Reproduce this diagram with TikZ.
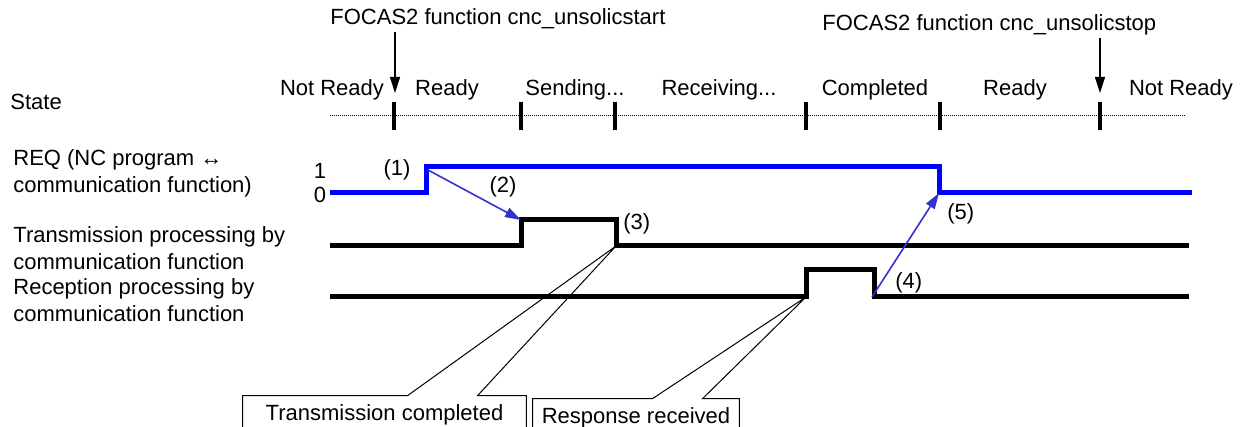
\documentclass[tikz,border=0pt]{standalone}
\usepackage{fontspec}
\setmainfont{Liberation Sans}
\usetikzlibrary{arrows.meta,positioning,calc}
\definecolor{evtblue}{RGB}{51,51,204}

\begin{document}
\begin{tikzpicture}[x=0.5pt, y=-0.5pt,
		every node/.style={inner sep=0pt, font=\fontsize{11}{13.5}\selectfont},
		lbl/.style={anchor=base west, align=left},
		st/.style={anchor=base},
		sig/.style={line width=2.5pt, line join=miter},
		tick/.style={line width=2pt},
		cmd/.style={-{Triangle[width=5pt,length=8pt]}, line width=0.6pt},
		evt/.style={-{Triangle[width=5pt,length=8pt]}, line width=0.8pt, evtblue},
		box/.style={minimum height=19pt},
		wedge/.style={line width=0.5pt}
		]
		\useasboundingbox (0,0) rectangle (1249,427);
		
		% ── Row labels ──
		\node[lbl] (state) at (10,110) {State};
		\node[lbl] (req) at (13,193) {REQ (NC program ↔\\communication function)};
		\node[lbl] (tx) at (13,270) {Transmission processing by\\communication function};
		\node[lbl] (rx) at (13,322) {Reception processing by\\communication function};
		
		% ── FOCAS2 calls ──
		\node[anchor=base west] (fstart) at (330,25) {FOCAS2 function cnc\_unsolicstart};
		\node[anchor=base west] (fstop) at (822,31) {FOCAS2 function cnc\_unsolicstop};
		\coordinate (pstart) at (395,93);
		\coordinate (pstop) at (1100,93);
		\draw[cmd] ($(pstart |- fstart.south)+(0,2)$) -- (pstart);
		\draw[cmd] ($(pstop |- fstop.south)+(0,2)$) -- (pstop);
		
		% ── State row ──
		\node[st] (s1) at (332,96) {Not Ready};
		\node[st] (s2) at (447,96) {Ready};
		\node[st] (s3) at (575,96) {Sending...};
		\node[st] (s4) at (719,96) {Receiving...};
		\node[st] (s5) at (875,96) {Completed};
		\node[st] (s6) at (1015,96) {Ready};
		\node[st] (s7) at (1181,96) {Not Ready};
		\draw[line width=0.5pt, dash pattern=on 0.5pt off 0.5pt] (330,116) -- (1185,116);
		\foreach \x in {394,521,615,806,940,1100}
		\draw[tick] (\x,102) -- (\x,130);
		
		% ── Signals ──
		\coordinate (requp) at (426,167);
		\coordinate (reqdn) at (939,193);
		\coordinate (txup) at (521,220);
		\coordinate (txdn) at (616,246);
		\coordinate (rxup) at (806,297);
		\coordinate (rxdn) at (872,297);
		\draw[sig, blue] (330,193) -- (426,193) -- (requp) -- (939,167) -- (reqdn) -- (1192,193);
		\draw[sig] (330,246) -- (521,246) -- (txup) -- (616,220) -- (txdn) -- (1189,246);
		\draw[sig] (330,297) -- (rxup) -- (806,270) -- (874,270) -- (874,297) -- (1189,297);
		\node[st] (one) at (320,179) {1};
		\node[st] (zero) at (320,203) {0};
		
		% ── Events ──
		\node[st] (e1) at (397,176) {(1)};
		\node[st] (e2) at (503,193) {(2)};
		\node[lbl] (e3) at (623,230) {(3)};
		\node[lbl] (e4) at (895,289) {(4)};
		\node[lbl] (e5) at (947,220) {(5)};
		\draw[evt] ($(requp)+(2,3)$) -- (txup);
		\draw[evt] (rxdn) -- (reqdn);
		
		% ── Callouts ──
		\node[box, minimum width=141.5pt] (tdone) at (384.5,415) {Transmission completed};
		\node[box, minimum width=103pt] (rdone) at (636,418) {Response received};
		\draw[wedge] (tdone.south west) -- (tdone.north west) -- ($(tdone.north west)+(165,0)$)
		-- (txdn) -- ($(tdone.north west)+(235,0)$) -- (tdone.north east) -- (tdone.south east);
		\draw[wedge] (rdone.south west) -- (rdone.north west) -- ($(rdone.north west)+(120,0)$)
		-- (rxup) -- ($(rdone.north west)+(170,0)$) -- (rdone.north east) -- (rdone.south east);
	\end{tikzpicture}
\end{document}
